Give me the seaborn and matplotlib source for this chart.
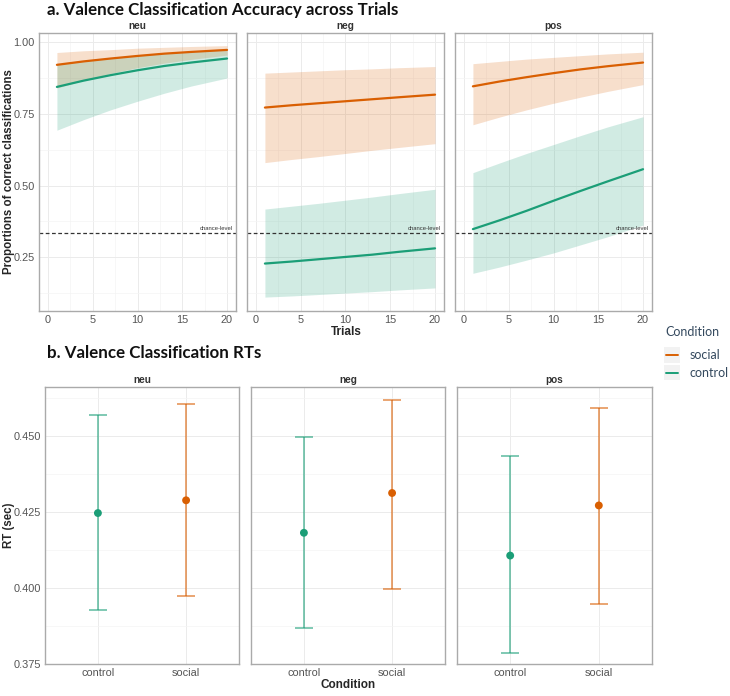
import numpy as np
import pandas as pd
import matplotlib
matplotlib.use("Agg")
import matplotlib.pyplot as plt
from matplotlib.ticker import MultipleLocator, FormatStrFormatter
from matplotlib.lines import Line2D
from matplotlib.patches import Rectangle
from matplotlib.legend_handler import HandlerBase
import seaborn as sns

# ---------------- data ----------------
valences = ["neu", "neg", "pos"]
conditions = ["social", "control"]
trials = [1, 4, 7, 10, 13, 16, 20]

neu_social_fit = [0.921, 0.933, 0.943, 0.952, 0.960, 0.966, 0.973]
neu_social_lo = [0.840, 0.867, 0.891, 0.911, 0.927, 0.940, 0.955]
neu_social_hi = [0.964, 0.970, 0.974, 0.979, 0.982, 0.985, 0.988]
neu_control_fit = [0.844, 0.866, 0.885, 0.902, 0.917, 0.929, 0.943]
neu_control_lo = [0.693, 0.730, 0.764, 0.794, 0.822, 0.847, 0.875]
neu_control_hi = [0.922, 0.935, 0.945, 0.954, 0.962, 0.968, 0.975]

neg_social_fit = [0.772, 0.780, 0.787, 0.794, 0.801, 0.808, 0.817]
neg_social_lo = [0.580, 0.591, 0.601, 0.612, 0.623, 0.633, 0.646]
neg_social_hi = [0.892, 0.896, 0.900, 0.904, 0.907, 0.911, 0.915]
neg_control_fit = [0.228, 0.235, 0.243, 0.251, 0.259, 0.269, 0.281]
neg_control_lo = [0.111, 0.115, 0.120, 0.125, 0.130, 0.136, 0.143]
neg_control_hi = [0.418, 0.428, 0.438, 0.449, 0.460, 0.472, 0.487]

pos_social_fit = [0.846, 0.863, 0.878, 0.892, 0.905, 0.916, 0.929]
pos_social_lo = [0.712, 0.739, 0.764, 0.787, 0.808, 0.828, 0.852]
pos_social_hi = [0.925, 0.933, 0.941, 0.947, 0.953, 0.959, 0.965]
pos_control_fit = [0.348, 0.379, 0.412, 0.447, 0.481, 0.514, 0.557]
pos_control_lo = [0.194, 0.216, 0.240, 0.265, 0.293, 0.321, 0.362]
pos_control_hi = [0.545, 0.579, 0.612, 0.643, 0.674, 0.704, 0.740]

chance_level = 1 / 3

rt_conditions = ["control", "social"]
rt_mean_neu = [0.4247, 0.4289]
rt_lo_neu = [0.3927, 0.3973]
rt_hi_neu = [0.4569, 0.4606]
rt_mean_neg = [0.4182, 0.4313]
rt_lo_neg = [0.3869, 0.3996]
rt_hi_neg = [0.4496, 0.4619]
rt_mean_pos = [0.4107, 0.4272]
rt_lo_pos = [0.3787, 0.3949]
rt_hi_pos = [0.4434, 0.4593]

# ---------------- tables ----------------
acc_src = {
    ("neu", "social"): (neu_social_fit, neu_social_lo, neu_social_hi),
    ("neu", "control"): (neu_control_fit, neu_control_lo, neu_control_hi),
    ("neg", "social"): (neg_social_fit, neg_social_lo, neg_social_hi),
    ("neg", "control"): (neg_control_fit, neg_control_lo, neg_control_hi),
    ("pos", "social"): (pos_social_fit, pos_social_lo, pos_social_hi),
    ("pos", "control"): (pos_control_fit, pos_control_lo, pos_control_hi),
}
rows = []
for (v, c), (f, lo, hi) in acc_src.items():
    for t, a, b, d in zip(trials, f, lo, hi):
        rows.append(dict(valence=v, condition=c, trial=t, fit=a, lo=b, hi=d))
acc = pd.DataFrame(rows)

rt_src = {"neu": (rt_mean_neu, rt_lo_neu, rt_hi_neu),
          "neg": (rt_mean_neg, rt_lo_neg, rt_hi_neg),
          "pos": (rt_mean_pos, rt_lo_pos, rt_hi_pos)}
rrows = []
for v, (m, lo, hi) in rt_src.items():
    for c, a, b, d in zip(rt_conditions, m, lo, hi):
        rrows.append(dict(valence=v, condition=c, rt=a, lo=b, hi=d))
rt = pd.DataFrame(rrows)

# ---------------- style ----------------
sns.set_theme(style="white")
plt.rcParams["font.family"] = ["Liberation Sans", "DejaVu Sans"]

palette = {"social": "#D95F02", "control": "#1B9E77"}
W, H = 730, 696
fig = plt.figure(figsize=(W / 100, H / 100), dpi=100)


def add_ax(x0, y0, x1, y1):
    return fig.add_axes([x0 / W, 1 - y1 / H, (x1 - x0) / W, (y1 - y0) / H])


def style_ax(ax):
    for s in ax.spines.values():
        s.set_color("#aaaaaa")
        s.set_linewidth(1.0)
    ax.grid(which="major", color="#ebebeb", lw=0.7)
    ax.grid(which="minor", color="#f4f4f4", lw=0.5)
    ax.set_axisbelow(True)
    ax.tick_params(which="both", length=0, labelsize=7.9, labelcolor="#555555", pad=3)
    ax.set_xlabel("")
    ax.set_ylabel("")


top_boxes = [(39, 33, 236, 311), (247, 33, 444, 311), (455, 33, 652, 311)]
bot_boxes = [(45, 387, 239, 664), (251, 387, 445, 664), (457, 387, 652, 664)]

# ---------------- panel a ----------------
for i, (v, box) in enumerate(zip(valences, top_boxes)):
    ax = add_ax(*box)
    sub = acc[acc.valence == v]
    for c in conditions:
        s = sub[sub.condition == c]
        ax.fill_between(s.trial, s.lo, s.hi, color=palette[c], alpha=0.2, lw=0, zorder=1)
    sns.lineplot(data=sub, x="trial", y="fit", hue="condition", hue_order=conditions,
                 palette=palette, lw=1.6, legend=False, ax=ax, zorder=3)
    ax.axhline(chance_level, color="#333333", lw=0.9, ls=(0, (3, 2)), zorder=2)
    ax.text(20.6, chance_level + 0.007, "chance-level", fontsize=4.2, color="#333333",
            ha="right", va="bottom")
    ax.set_xlim(-1, 21)
    ax.set_ylim(0.0625, 1.032)
    ax.xaxis.set_major_locator(MultipleLocator(5))
    ax.xaxis.set_minor_locator(MultipleLocator(2.5))
    ax.yaxis.set_major_locator(MultipleLocator(0.25))
    ax.yaxis.set_minor_locator(MultipleLocator(0.125))
    ax.yaxis.set_major_formatter(FormatStrFormatter("%.2f"))
    style_ax(ax)
    if i > 0:
        ax.tick_params(axis="y", labelleft=False)
    ax.set_title(v, fontsize=7.2, fontweight="bold", color="#333333", pad=3)

# ---------------- panel b ----------------
for i, (v, box) in enumerate(zip(valences, bot_boxes)):
    ax = add_ax(*box)
    sub = rt[rt.valence == v].reset_index(drop=True)
    for j, row in sub.iterrows():
        ax.errorbar([j], [row.rt], yerr=[[row.rt - row.lo], [row.hi - row.rt]],
                    fmt="none", ecolor=palette[row.condition], alpha=0.65,
                    elinewidth=1.2, capsize=6.5, capthick=1.2, zorder=2)
    sns.scatterplot(data=sub, x=np.arange(len(sub)), y="rt", hue="condition",
                    palette=palette, s=32, edgecolor="none", legend=False, ax=ax, zorder=3)
    ax.set_xlim(-0.6, 1.6)
    ax.set_xticks([0, 1])
    ax.set_xticklabels(rt_conditions)
    ax.set_ylim(0.375, 0.4662)
    ax.yaxis.set_major_locator(MultipleLocator(0.025))
    ax.yaxis.set_minor_locator(MultipleLocator(0.0125))
    ax.yaxis.set_major_formatter(FormatStrFormatter("%.3f"))
    style_ax(ax)
    if i > 0:
        ax.tick_params(axis="y", labelleft=False)
    ax.set_title(v, fontsize=7.2, fontweight="bold", color="#333333", pad=3)

# ---------------- titles / labels ----------------
fig.text(47 / W, 1 - 10 / H, "a. Valence Classification Accuracy across Trials",
         fontsize=12.2, fontweight="bold", family=["Lato", "DejaVu Sans"],
         ha="left", va="center", color="#111111")
fig.text(47 / W, 1 - 353 / H, "b. Valence Classification RTs",
         fontsize=12.2, fontweight="bold", family=["Lato", "DejaVu Sans"],
         ha="left", va="center", color="#111111")
fig.text(9 / W, 1 - 172 / H, "Proportions of correct classifications", rotation=90,
         fontsize=8.3, fontweight="bold", ha="center", va="center")
fig.text(9 / W, 1 - 525 / H, "RT (sec)", rotation=90,
         fontsize=8.3, fontweight="bold", ha="center", va="center")
fig.text(346 / W, 1 - 332 / H, "Trials", fontsize=8.5, fontweight="bold",
         ha="center", va="center")
fig.text(348 / W, 1 - 685 / H, "Condition", fontsize=8.5, fontweight="bold",
         ha="center", va="center")


class KeyHandler(HandlerBase):
    def create_artists(self, legend, orig, xdescent, ydescent, width, height, fontsize, trans):
        pad = 2.5
        bg = Rectangle((-xdescent, -ydescent - pad), width, height + 2 * pad,
                       facecolor="#f2f2f2", edgecolor="none", transform=trans)
        ln = Line2D([-xdescent + 1, width - xdescent - 1], [height / 2 - ydescent] * 2,
                    color=orig.get_color(), lw=1.4, transform=trans)
        return [bg, ln]


fig.text(665 / W, 1 - 332 / H, "Condition", fontsize=9, family=["Lato", "DejaVu Sans"],
         color="#34495e", ha="left", va="center")
handles = [Line2D([], [], color=palette[c], lw=1.6) for c in conditions]
leg = fig.legend(handles, conditions, loc="upper left",
                 bbox_to_anchor=(653 / W, 1 - 338 / H), frameon=False,
                 handlelength=1.25, handletextpad=0.75, labelspacing=0.45,
                 handler_map={Line2D: KeyHandler()},
                 prop={"family": ["Lato", "DejaVu Sans"], "size": 9})
for t in leg.get_texts():
    t.set_color("#34495e")

fig.savefig("out.png", dpi=100)
